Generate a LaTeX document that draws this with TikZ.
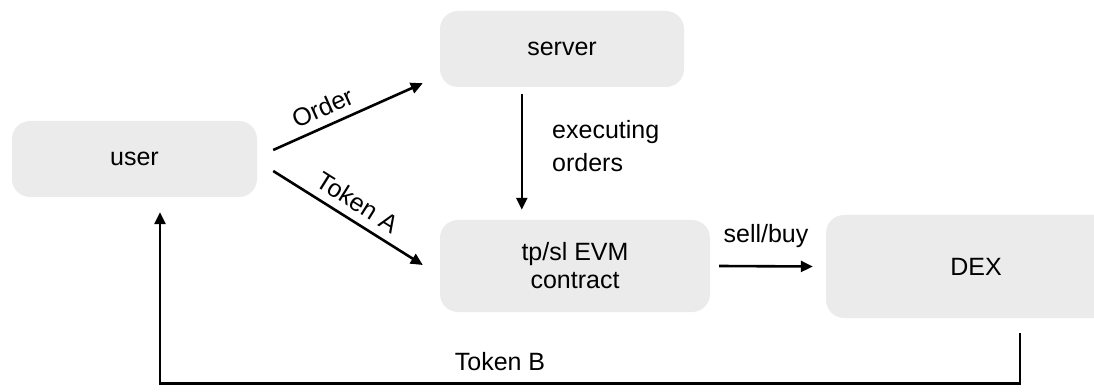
\documentclass[tikz,border=0pt]{standalone}
\usepackage{fontspec}
\setmainfont{Liberation Sans}
\usetikzlibrary{arrows.meta,calc}
\definecolor{boxgray}{RGB}{235,235,235}
\begin{document}
\begin{tikzpicture}[x=1pt,y=1pt,
  font=\fontsize{25}{33}\selectfont,
  block/.style={fill=boxgray,draw=none,rounded corners=18pt,inner sep=0pt},
  arr/.style={line width=2.6pt,-{Triangle[length=12pt,width=11pt]}},
  lbl/.style={inner sep=0pt}]
  \useasboundingbox (0,0) rectangle (1094,391);
  \begin{scope}
    \clip (0,0) rectangle (1094,391);
    % boxes
    \node[block,minimum width=245pt,minimum height=76pt] (user) at (134.5,232) {user};
    \node[block,minimum width=244pt,minimum height=76pt] (server) at (562,342) {server};
    \node[block,minimum width=270pt,minimum height=92pt,align=center] (contract) at (575,125) {tp/sl EVM\\[-5pt]contract};
    \node[block,minimum width=300pt,minimum height=103pt] (dex) at (976,124.5) {DEX};
  \end{scope}
  % connectors
  \draw[arr] ([xshift=16pt,yshift=9pt]user.east) -- ([xshift=-17pt,yshift=4pt]server.south west)
    node[lbl,pos=0.38,sloped,above=8pt] {Order};
  \draw[arr] ([xshift=16pt,yshift=-12pt]user.east) -- ([xshift=-17pt,yshift=1pt]contract.west)
    node[lbl,pos=0.5,sloped,above=8pt] {Token A};
  \draw[arr] ([xshift=82pt,yshift=-7pt]server.south west) -- ([xshift=82pt,yshift=10pt]contract.north west);
  \node[lbl,anchor=west,align=left] (exec) at (552,245) {executing\\orders};
  \draw[arr] ([xshift=9pt]contract.east) -- ([xshift=-13pt]dex.west)
    node[lbl,midway,above=17pt] {sell/buy};
  \draw[arr] ([xshift=44pt,yshift=-15pt]dex.south) -- ++(0,-50) -| ([xshift=25.5pt,yshift=-15pt]user.south);
  \node[lbl] (tokenb) at (500,29) {Token B};
\end{tikzpicture}
\end{document}
